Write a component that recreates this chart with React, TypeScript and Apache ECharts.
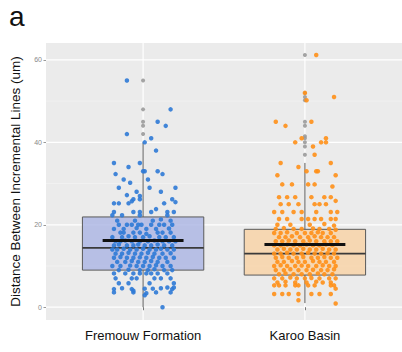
import React, { useEffect, useRef } from "react";
import * as echarts from "echarts";

const categories = ["Fremouw Formation", "Karoo Basin"];
const yTickLabels = [0, 20, 40, 60];
const yMinorTicks = [10, 30, 50];
// [lower whisker, Q1, median, Q3, upper whisker]
const fremouwBox = [0, 9, 14.4, 21.9, 40];
const karooBox = [1, 7.8, 13, 18.9, 35];
const groupMeans = [16.2, 15.2];
const fremouwOutliers = [55, 48, 45, 44, 42];
const karooOutliers = [61.2, 52, 51, 50.2, 45, 44, 41.5, 41, 40, 39, 37];

// [jitter offset from category centre, value]
const fremouwPoints: [number, number][] = [
  [-0.10, 55], [0.17, 48], [0.09, 45], [0.14, 44], [-0.10, 42], [0.05, 41], [0.01, 40], [0.08, 38],
  [-0.18, 35], [-0.09, 34], [-0.02, 35], [0.0, 33], [0.01, 33], [0.09, 33], [-0.17, 32.3], [0.12, 32.3],
  [-0.12, 31], [0.03, 31], [-0.08, 30.2], [-0.15, 29], [0.04, 29], [0.2, 29], [-0.04, 28], [0.11, 28],
  [-0.10, 27.2], [-0.02, 27], [-0.06, 26.2], [-0.02, 26.2], [0.18, 26.2], [-0.18, 25.2], [-0.15, 25.2],
  [-0.09, 25.2], [-0.07, 25.7], [0.13, 25.2], [0.2, 25.5], [0.08, 23.8], [0.05, 23.1], [-0.18, 23.1],
  [-0.06, 23.1], [-0.02, 23.1], [0.15, 23.1], [0.19, 23.1], [-0.19, 22.3], [-0.13, 22.3], [-0.02, 22.3], [0.15, 22.3],
  [-0.16, 21], [-0.05, 21], [0.06, 21], [0.17, 21], [0.11, 21.3],
  [-0.15, 20], [-0.10, 20], [-0.07, 20], [-0.03, 20], [-0.01, 20], [0.05, 20], [0.10, 20], [0.13, 20], [0.18, 20],
  [-0.18, 19], [-0.12, 19], [-0.04, 19.2], [0.02, 19], [0.08, 19], [0.16, 19.1],
  [-0.14, 18.1], [-0.12, 18.1], [-0.06, 18.1], [-0.02, 18.1], [0.02, 17.8], [0.09, 18.1], [0.12, 18.1], [0.17, 18.1],
  [-0.19, 17], [-0.13, 17], [-0.09, 17.2], [-0.05, 17], [0.0, 17], [0.04, 17.2], [0.10, 17], [0.14, 17], [0.19, 17],
  [-0.17, 16], [-0.14, 16], [-0.11, 16.2], [-0.07, 16], [-0.02, 16], [0.03, 16], [0.07, 16.2], [0.12, 16], [0.16, 16], [0.2, 16],
  [-0.18, 15], [-0.15, 15.2], [-0.10, 15], [-0.06, 15], [-0.03, 15.2], [0.01, 15], [0.05, 15], [0.09, 15.2], [0.13, 15], [0.18, 15],
  [-0.19, 14], [-0.16, 14], [-0.12, 14.2], [-0.08, 14], [-0.04, 14], [0.0, 14.2], [0.04, 14], [0.08, 14], [0.11, 14.2], [0.15, 14], [0.19, 14],
  [-0.17, 13], [-0.13, 13], [-0.09, 13.2], [-0.05, 13], [-0.01, 13], [0.03, 13.2], [0.07, 13], [0.12, 13], [0.17, 13.1],
  [-0.18, 12], [-0.14, 12.2], [-0.10, 12], [-0.06, 12], [-0.02, 12.1], [0.02, 12], [0.06, 12.2], [0.10, 12], [0.14, 12], [0.19, 12],
  [-0.16, 11], [-0.11, 11], [-0.07, 11.2], [-0.03, 11], [0.01, 11], [0.05, 11.2], [0.09, 11], [0.15, 11],
  [-0.19, 10], [-0.14, 10], [-0.08, 10.1], [-0.04, 10], [0.0, 10], [0.04, 10], [0.08, 10.2], [0.12, 10], [0.17, 10],
  [-0.15, 9], [-0.09, 9.1], [-0.02, 9], [0.03, 9], [0.07, 9.2], [0.13, 9], [0.18, 9],
  [-0.18, 8.2], [-0.11, 8.2], [-0.06, 8.2], [-0.02, 8.2], [0.02, 8.2], [0.05, 8.2], [0.09, 8.2], [0.15, 8.2],
  [-0.17, 7], [-0.07, 7], [-0.04, 7], [0.07, 7], [0.11, 7], [0.17, 7],
  [-0.15, 5.8], [-0.09, 5.8], [0.04, 5.8], [0.19, 5.8],
  [-0.18, 4.4], [-0.13, 4.6], [-0.07, 4.4], [-0.06, 4], [0.01, 4.5], [0.06, 4.5], [0.11, 4.6], [0.15, 4.8], [0.18, 4.4], [0.19, 4.8],
  [-0.18, 3.6], [-0.06, 3.6], [0.02, 3.4], [0.08, 3.6], [0.17, 3.6],
  [0.01, 2.9], [0.12, 0],
];

const karooPoints: [number, number][] = [
  [0.07, 61.2], [0.0, 52], [0.18, 51], [0.01, 50.2], [-0.18, 45], [-0.12, 44], [0.04, 45], [-0.02, 41],
  [-0.06, 40], [0.13, 41], [0.10, 40], [0.13, 40], [0.05, 39], [0.06, 37], [-0.15, 35], [-0.04, 34],
  [0.16, 35], [0.07, 33], [0.08, 33], [-0.17, 32], [0.19, 32], [0.01, 33],
  [-0.14, 29.8], [-0.08, 29.8], [0.02, 29.8], [0.06, 29.8], [0.17, 29.3],
  [-0.16, 26.7], [-0.11, 26.7], [-0.06, 26.7], [0.04, 26.7], [0.12, 26.7], [0.16, 26.7], [0.19, 25.8],
  [-0.15, 25], [-0.10, 25], [-0.04, 25], [0.06, 25], [0.09, 25], [0.13, 25],
  [-0.19, 23.1], [-0.14, 23.1], [-0.07, 23.1], [-0.02, 23.1], [0.07, 23.1], [0.16, 23.1], [0.2, 23.1],
  [-0.16, 21.4], [-0.11, 21.4], [-0.02, 21.4], [0.02, 21.4], [0.06, 21.4], [0.10, 21.4], [0.16, 21.4], [0.19, 21.4],
  [-0.17, 20], [-0.09, 20], [0.03, 20], [0.12, 20.2], [0.18, 19.8],
  [-0.18, 19], [-0.13, 19.2], [-0.07, 19], [-0.02, 19], [0.05, 19.1], [0.09, 19], [0.15, 19], [0.19, 18.8],
  [-0.19, 18], [-0.15, 18], [-0.11, 18.2], [-0.05, 18], [0.0, 18], [0.04, 18], [0.08, 18.2], [0.11, 18], [0.16, 18],
  [-0.16, 17], [-0.12, 17], [-0.08, 17.2], [-0.03, 17], [0.02, 17], [0.06, 17.2], [0.10, 17], [0.14, 17], [0.18, 17],
  [-0.18, 16], [-0.14, 16], [-0.10, 16.2], [-0.06, 16], [-0.01, 16], [0.03, 16.2], [0.07, 16], [0.12, 16], [0.16, 16], [0.2, 16],
  [-0.19, 15], [-0.15, 15], [-0.11, 15.2], [-0.07, 15], [-0.03, 15], [0.01, 15.2], [0.05, 15], [0.09, 15], [0.13, 15.2], [0.17, 15],
  [-0.17, 14], [-0.13, 14.2], [-0.09, 14], [-0.05, 14], [-0.01, 14.2], [0.03, 14], [0.07, 14], [0.11, 14.2], [0.15, 14], [0.19, 14],
  [-0.19, 13], [-0.15, 13], [-0.11, 13.2], [-0.07, 13], [-0.02, 13], [0.02, 13.2], [0.06, 13], [0.10, 13], [0.14, 13.1], [0.18, 13],
  [-0.18, 12], [-0.14, 12.2], [-0.10, 12], [-0.05, 12], [-0.01, 12.2], [0.04, 12], [0.08, 12], [0.12, 12.2], [0.16, 12], [0.2, 12],
  [-0.17, 11], [-0.13, 11], [-0.08, 11.2], [-0.04, 11], [0.0, 11], [0.05, 11.2], [0.09, 11], [0.13, 11], [0.18, 11],
  [-0.19, 10], [-0.15, 10.2], [-0.11, 10], [-0.06, 10], [-0.02, 10.1], [0.02, 10], [0.07, 10], [0.11, 10.2], [0.15, 10], [0.19, 10],
  [-0.18, 9], [-0.13, 9], [-0.09, 9.2], [-0.04, 9], [0.01, 9], [0.05, 9.1], [0.10, 9], [0.14, 9], [0.18, 9.2],
  [-0.16, 8], [-0.12, 8.2], [-0.07, 8], [-0.02, 8], [0.03, 8], [0.08, 8.2], [0.12, 8], [0.17, 8],
  [-0.19, 7], [-0.14, 7], [-0.09, 7.2], [-0.05, 7], [0.0, 7], [0.04, 7.1], [0.09, 7], [0.15, 7], [0.19, 7],
  [-0.17, 6], [-0.12, 6.2], [-0.06, 6], [0.01, 6], [0.07, 6.2], [0.11, 6], [0.16, 6],
  [-0.19, 5.3], [-0.16, 5.3], [-0.12, 5.3], [-0.06, 5.3], [-0.04, 5.3], [0.02, 5.3], [0.06, 5.3], [0.16, 5.3], [0.18, 5.3], [0.19, 4.5],
  [-0.19, 3.2], [-0.14, 3.2], [-0.10, 3.2], [-0.04, 3.2], [0.04, 3.2], [0.09, 3.2], [0.16, 3.2],
  [-0.04, 1.7], [0.19, 0.9],
];

const FONT = "'Liberation Sans', Arial, Helvetica, sans-serif";
const X_MIN = 0.4;
const X_MAX = 2.6;
const Y_MIN = -3.1;
const Y_MAX = 64.1;
const BOX_HALF = 0.375;
const MEAN_HALF = 0.25;

export default function App() {
  const ref = useRef<HTMLDivElement>(null);
  useEffect(() => {
    document.body.style.margin = "0";
    const chart = echarts.init(ref.current!, null, { renderer: "svg" });

    const boxes = [fremouwBox, karooBox];
    const boxFills = ["rgba(170,180,228,0.8)", "rgba(248,212,168,0.85)"];
    const pointColors = ["#2F7AD6", "#FF9018"];

    const hLine = (ticks: number[], width: number, color: string) => ({
      type: "custom",
      z: 0,
      silent: true,
      data: ticks.map((v) => [X_MIN, v]),
      renderItem: (params: any, api: any) => {
        const cs = params.coordSys;
        const y = api.coord([X_MIN, api.value(1)])[1];
        return {
          type: "line",
          shape: { x1: cs.x, y1: y, x2: cs.x + cs.width, y2: y },
          style: { stroke: color, lineWidth: width },
        };
      },
    });

    const option: any = {
      animation: false,
      grid: {
        left: 45, right: 0, top: 43, bottom: 32,
        show: true, backgroundColor: "#EBEBEB", borderWidth: 0,
      },
      xAxis: {
        type: "value", min: X_MIN, max: X_MAX,
        axisLine: { show: false },
        splitLine: { show: false },
        axisTick: { show: true, customValues: [1, 2], length: 3, lineStyle: { color: "#777" } },
        axisLabel: {
          customValues: [1, 2],
          formatter: (v: number) => categories[Math.round(v) - 1] ?? "",
          fontSize: 13, color: "#111", margin: 9, fontFamily: FONT,
        },
      },
      yAxis: {
        type: "value", min: Y_MIN, max: Y_MAX,
        axisLine: { show: false },
        splitLine: { show: false },
        axisTick: { show: true, customValues: yTickLabels, length: 2.5, lineStyle: { color: "#999" } },
        axisLabel: { customValues: yTickLabels, fontSize: 7, color: "#888", margin: 4, fontFamily: FONT },
        name: "Distance Between Incremental Lines (um)",
        nameLocation: "middle",
        nameGap: 24,
        nameTextStyle: { fontSize: 13.5, color: "#111", fontFamily: FONT },
      },
      graphic: [
        { type: "text", left: 9, top: 2, style: { text: "a", fontSize: 28, fill: "#111", fontFamily: FONT } },
      ],
      series: [
        hLine(yMinorTicks, 0.6, "#F5F5F5"),
        hLine(yTickLabels, 1.2, "#FFFFFF"),
        {
          type: "custom", z: 0, silent: true,
          data: categories.map((_, i) => [i + 1, Y_MIN]),
          renderItem: (params: any, api: any) => {
            const cs = params.coordSys;
            const x = api.coord([api.value(0), Y_MIN])[0];
            return {
              type: "line",
              shape: { x1: x, y1: cs.y, x2: x, y2: cs.y + cs.height },
              style: { stroke: "#FFFFFF", lineWidth: 1.2 },
            };
          },
        },
        {
          type: "custom", z: 1, silent: true,
          data: boxes.map((b, i) => [i + 1, ...b]),
          renderItem: (params: any, api: any) => {
            const x = api.value(0);
            const [cx, yLo] = api.coord([x, api.value(1)]);
            const yQ1 = api.coord([x, api.value(2)])[1];
            const yMed = api.coord([x, api.value(3)])[1];
            const yQ3 = api.coord([x, api.value(4)])[1];
            const yHi = api.coord([x, api.value(5)])[1];
            const half = api.size([BOX_HALF, 0])[0];
            const stroke = "#5A5A5A";
            return {
              type: "group",
              children: [
                { type: "line", shape: { x1: cx, y1: yQ3, x2: cx, y2: yHi }, style: { stroke, lineWidth: 1 } },
                { type: "line", shape: { x1: cx, y1: yQ1, x2: cx, y2: yLo }, style: { stroke, lineWidth: 1 } },
                {
                  type: "rect",
                  shape: { x: cx - half, y: yQ3, width: half * 2, height: yQ1 - yQ3 },
                  style: { fill: boxFills[params.dataIndex], stroke, lineWidth: 1 },
                },
                { type: "line", shape: { x1: cx - half, y1: yMed, x2: cx + half, y2: yMed }, style: { stroke: "#3A3A3A", lineWidth: 1.8 } },
              ],
            };
          },
        },
        {
          type: "scatter", z: 2, silent: true, symbolSize: 4,
          itemStyle: { color: "#9A9A9A", opacity: 0.9 },
          data: [
            ...fremouwOutliers.map((v) => [1, v]),
            ...karooOutliers.map((v) => [2, v]),
          ],
        },
        {
          type: "scatter", z: 3, silent: true, symbolSize: 4.5,
          itemStyle: { color: pointColors[0], opacity: 0.9 },
          data: fremouwPoints.map(([dx, v]) => [1 + dx, v]),
        },
        {
          type: "scatter", z: 3, silent: true, symbolSize: 4.5,
          itemStyle: { color: pointColors[1], opacity: 0.9 },
          data: karooPoints.map(([dx, v]) => [2 + dx, v]),
        },
        {
          type: "custom", z: 4, silent: true,
          data: groupMeans.map((m, i) => [i + 1, m]),
          renderItem: (params: any, api: any) => {
            const [cx, y] = api.coord([api.value(0), api.value(1)]);
            const half = api.size([MEAN_HALF, 0])[0];
            return {
              type: "line",
              shape: { x1: cx - half, y1: y, x2: cx + half, y2: y },
              style: { stroke: "#111111", lineWidth: 3 },
            };
          },
        },
      ],
    };
    chart.setOption(option);
    return () => chart.dispose();
  }, []);
  return (
    <div
      ref={ref}
      style={{ position: "absolute", left: 0, top: 0, width: 402, height: 352, background: "#fff" }}
    />
  );
}
